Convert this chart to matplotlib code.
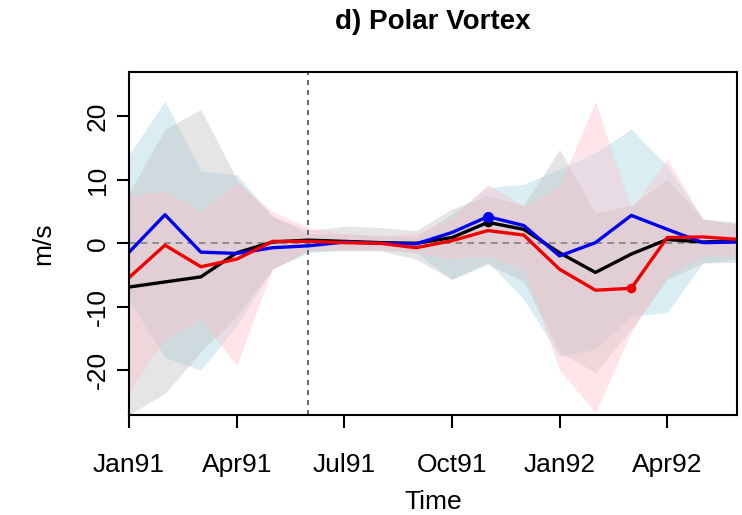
import matplotlib
matplotlib.use("Agg")
import matplotlib.pyplot as plt
import numpy as np

plt.rcParams["font.family"] = ["Liberation Sans", "DejaVu Sans"]

# monthly series, Jan 1991 .. Jun 1992
months = np.arange(18)
tick_pos = [0, 3, 6, 9, 12, 15]
tick_labels = ["Jan91", "Apr91", "Jul91", "Oct91", "Jan92", "Apr92"]
eruption_month = 5

black = [-6.9, -6.1, -5.3, -1.5, 0.2, 0.5, 0.3, 0.1, 0.0, 0.9, 3.3, 2.2, -1.5, -4.6, -1.7, 0.6, 0.2, 0.4]
blue = [-1.4, 4.5, -1.4, -1.6, -0.7, -0.4, 0.2, 0.0, -0.1, 1.7, 4.2, 2.8, -2.0, 0.1, 4.4, 2.2, 0.1, 0.2]
red = [-5.4, -0.3, -3.7, -2.5, 0.3, 0.3, 0.1, 0.0, -0.7, 0.4, 2.0, 1.3, -4.1, -7.4, -7.1, 0.9, 1.0, 0.6]

blue_hi = [14.0, 22.4, 11.4, 10.8, 4.3, 1.5, 1.5, 1.2, 1.0, 4.6, 8.8, 9.3, 11.7, 14.3, 18.0, 12.2, 3.8, 3.0]
blue_lo = [-9.0, -18.0, -20.0, -13.0, -4.0, -1.5, -1.0, -1.0, -1.5, -5.7, -3.0, -8.8, -17.8, -16.7, -11.5, -10.9, -3.1, -2.5]
grey_hi = [8.0, 18.0, 21.1, 10.1, 4.2, 2.0, 2.7, 2.5, 2.0, 5.4, 7.5, 6.0, 14.8, 4.8, 6.0, 10.1, 3.8, 3.3]
grey_lo = [-27.0, -23.7, -17.1, -11.5, -4.1, -1.2, -1.2, -1.2, -2.5, -5.7, -3.3, -6.0, -17.2, -20.4, -13.6, -5.7, -3.1, -3.0]
pink_hi = [7.5, 8.3, 4.9, 9.6, 5.0, 2.5, 1.5, 1.2, 1.5, 4.0, 9.3, 5.8, 9.0, 22.4, 5.4, 13.3, 3.8, 2.8]
pink_lo = [-23.5, -15.0, -12.0, -19.3, -4.0, -1.0, -1.0, -1.0, -1.5, -2.5, -2.0, -4.0, -20.0, -26.7, -14.0, -5.0, -2.0, -2.0]

# highlighted months on each series
blue_dot = 10
black_dot = 10
red_dot = 14

fig = plt.figure(figsize=(7.42, 5.15), dpi=100)
ax = fig.add_axes([0.174, 0.194, 0.819, 0.666])

ax.fill_between(months, blue_lo, blue_hi, color="#add8e6", alpha=0.45, linewidth=0)
ax.fill_between(months, grey_lo, grey_hi, color="#bebebe", alpha=0.40, linewidth=0)
ax.fill_between(months, pink_lo, pink_hi, color="#ffc0cb", alpha=0.40, linewidth=0)

ax.axhline(0, color="#808080", linestyle=(0, (4, 3)), linewidth=1.2)
ax.axvline(eruption_month, color="#505050", linestyle=(0, (3, 3)), linewidth=1.2)

ax.plot(months, black, color="black", linewidth=2.4)
ax.plot(months, blue, color="#0000ee", linewidth=2.4)
ax.plot(months, red, color="#ee0000", linewidth=2.4)
ax.plot(months[black_dot], black[black_dot], "o", color="black", markersize=6)
ax.plot(months[blue_dot], blue[blue_dot], "o", color="#0000ee", markersize=7)
ax.plot(months[red_dot], red[red_dot], "o", color="#ee0000", markersize=6)

ax.set_xlim(0, 16.94)
ax.set_ylim(-27.1, 27.0)
ax.set_xticks(tick_pos)
ax.set_xticklabels(tick_labels)
ax.set_yticks([-20, -10, 0, 10, 20])
ax.set_yticklabels(["-20", "-10", "0", "10", "20"], rotation=90, va="center")

ax.tick_params(direction="out", length=9, width=1.5, labelsize=19)
ax.tick_params(axis="x", pad=18)
ax.tick_params(axis="y", pad=5)
for spine in ax.spines.values():
    spine.set_linewidth(1.5)

ax.set_xlabel("Time", fontsize=19, labelpad=10)
ax.set_ylabel("m/s", fontsize=19, labelpad=22)
fig.text(0.583, 0.957, "d) Polar Vortex", ha="center", va="center", fontsize=20, fontweight="bold")

fig.savefig("out.png", dpi=100)
